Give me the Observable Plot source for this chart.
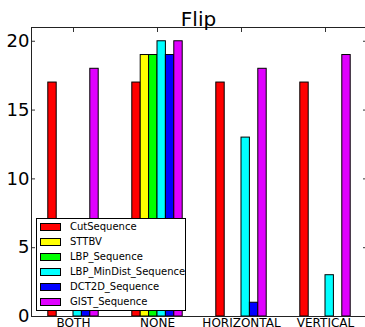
<!DOCTYPE html>
<html>
<head>
<meta charset="utf-8">
<script src="https://cdn.jsdelivr.net/npm/d3@7"></script>
<script src="https://cdn.jsdelivr.net/npm/@observablehq/plot@0.6"></script>
<style>
  html, body { margin: 0; padding: 0; background: #fff; }
  #wrap { position: relative; width: 365px; height: 327px; overflow: hidden; font-family: "DejaVu Sans", sans-serif; }
  #legend { position: absolute; left: 36px; top: 218px; width: 148px; height: 91px; border: 1px solid #000; background: #fff; }
  .row { position: absolute; left: 3px; height: 15px; display: flex; align-items: center; font-size: 10px; color: #000; }
  .sw { width: 19px; height: 6px; border: 1px solid #000; margin-right: 9px; }
</style>
</head>
<body>
<div id="wrap"></div>
<script>
const title = "Flip";
const categories = ["BOTH", "NONE", "HORIZONTAL", "VERTICAL"];
const seriesNames = ["CutSequence", "STTBV", "LBP_Sequence", "LBP_MinDist_Sequence", "DCT2D_Sequence", "GIST_Sequence"];
const seriesColors = ["#ff0000", "#ffff00", "#00ff00", "#00ffff", "#0000ff", "#e000ff"];
const cutSequence = [17, 17, 17, 17];
const sttbv = [0, 19, 0, 0];
const lbpSequence = [0, 19, 0, 0];
const lbpMinDistSequence = [2, 20, 13, 3];
const dct2dSequence = [1, 19, 1, 0];
const gistSequence = [18, 20, 18, 19];
const yTicks = [0, 5, 10, 15, 20];

const seriesValues = [cutSequence, sttbv, lbpSequence, lbpMinDistSequence, dct2dSequence, gistSequence];
const barWidth = 0.1;
const rows = [];
seriesValues.forEach((vals, si) => {
  vals.forEach((v, ci) => {
    if (v > 0) {
      const x1 = ci + (si - seriesNames.length / 2) * barWidth;
      rows.push({category: categories[ci], series: seriesNames[si], x1, x2: x1 + barWidth, value: v});
    }
  });
});

const chart = Plot.plot({
  width: 365,
  height: 327,
  marginLeft: 31,
  marginRight: 0,
  marginTop: 27,
  marginBottom: 11,
  style: {fontFamily: "DejaVu Sans", background: "#fff", color: "#000"},
  x: {domain: [-0.5, categories.length - 0.5], range: [31, 367]},
  y: {domain: [0, 21], range: [316, 27]},
  color: {domain: seriesNames, range: seriesColors},
  marks: [
    Plot.axisY({ticks: yTicks, tickSize: -4, tickPadding: 6, fontSize: 18, label: null, stroke: "#333"}),
    Plot.axisY({anchor: "right", ticks: yTicks, tickSize: -3, tickFormat: () => "", label: null, stroke: "#333"}),
    Plot.axisX({anchor: "top", ticks: d3.range(categories.length), tickSize: -4, tickFormat: () => "", label: null, stroke: "#333"}),
    Plot.axisX({anchor: "bottom", ticks: d3.range(categories.length), tickSize: -4, tickPadding: 6, tickFormat: i => categories[i], fontSize: 12, label: null, stroke: "#333"}),
    Plot.rectY(rows, {x1: "x1", x2: "x2", y1: 0, y2: "value", fill: "series", stroke: "#000", strokeWidth: 1}),
    Plot.ruleY([0, 21], {stroke: "#222"}),
    Plot.ruleX([-0.5], {stroke: "#222"}),
    Plot.text([title], {frameAnchor: "top", dy: -2, lineAnchor: "bottom", fontSize: 20, fill: "#000"})
  ]
});

const wrap = document.getElementById("wrap");
wrap.appendChild(chart);

const legend = document.createElement("div");
legend.id = "legend";
seriesNames.forEach((name, i) => {
  const row = document.createElement("div");
  row.className = "row";
  row.style.top = (i * 15) + "px";
  const sw = document.createElement("div");
  sw.className = "sw";
  sw.style.background = seriesColors[i];
  const label = document.createElement("span");
  label.textContent = name;
  row.appendChild(sw);
  row.appendChild(label);
  legend.appendChild(row);
});
wrap.appendChild(legend);
</script>
</body>
</html>
